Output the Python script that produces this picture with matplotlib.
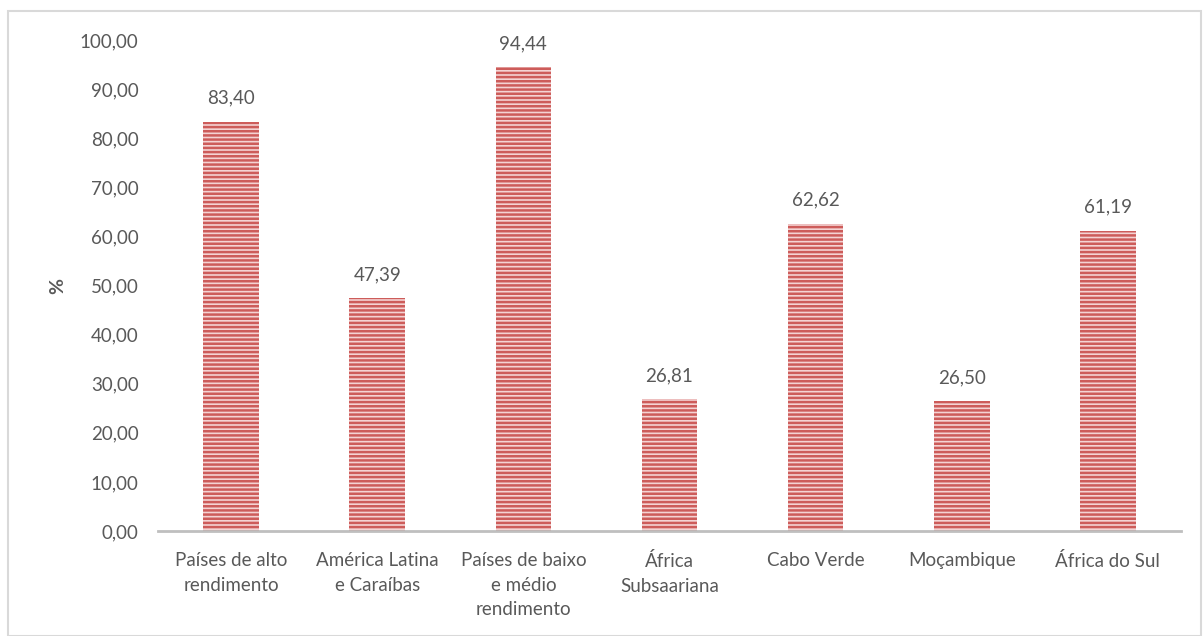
import matplotlib
matplotlib.use("Agg")
import matplotlib.pyplot as plt
from matplotlib.patches import Rectangle

categories = ["Países de alto\nrendimento", "América Latina\ne Caraíbas",
              "Países de baixo\ne médio\nrendimento", "África\nSubsaariana",
              "Cabo Verde", "Moçambique", "África do Sul"]
values = [83.40, 47.39, 94.44, 26.81, 62.62, 26.50, 61.19]
yticks = [0, 10, 20, 30, 40, 50, 60, 70, 80, 90, 100]

plt.rcParams['font.family'] = ['Lato', 'DejaVu Sans']
plt.rcParams['hatch.linewidth'] = 1.8

W, H = 1203, 636
fig = plt.figure(figsize=(W/100, H/100), dpi=100)
ax = fig.add_axes([158/W, 1-531/H, (1181-158)/W, (531-40)/H])

txt = '#595959'
x = list(range(len(categories)))
bars = ax.bar(x, values, width=0.38, color='#f4d3d3', edgecolor='#cd5c5a',
              linewidth=0, hatch='----', zorder=2)

for xi, v in zip(x, values):
    ax.text(xi, v + 3.0, f"{v:.2f}".replace('.', ','), ha='center', va='bottom',
            fontsize=13.5, color=txt)

ax.set_xlim(-0.5, len(categories) - 0.5)
ax.set_ylim(0, 100)
ax.set_yticks(yticks)
ax.set_yticklabels([f"{t:.2f}".replace('.', ',') for t in yticks], fontsize=13.5, color=txt)
ax.set_xticks(x)
ax.set_xticklabels(categories, fontsize=13.5, color=txt, linespacing=1.55)
ax.tick_params(axis='x', length=0, pad=15)
ax.tick_params(axis='y', length=0, pad=14)
for s in ['top', 'right', 'left']:
    ax.spines[s].set_visible(False)
ax.spines['bottom'].set_color('#bfbfbf')
ax.spines['bottom'].set_linewidth(2)
ax.set_ylabel('%', fontsize=14, color=txt, labelpad=10, fontweight='bold')

# outer chart border
fig.add_artist(Rectangle((8/W, 0), (W-10)/W, 1-11/H, transform=fig.transFigure,
                         fill=False, edgecolor='#d9d9d9', linewidth=1.5))

fig.savefig("out.png", dpi=100)
